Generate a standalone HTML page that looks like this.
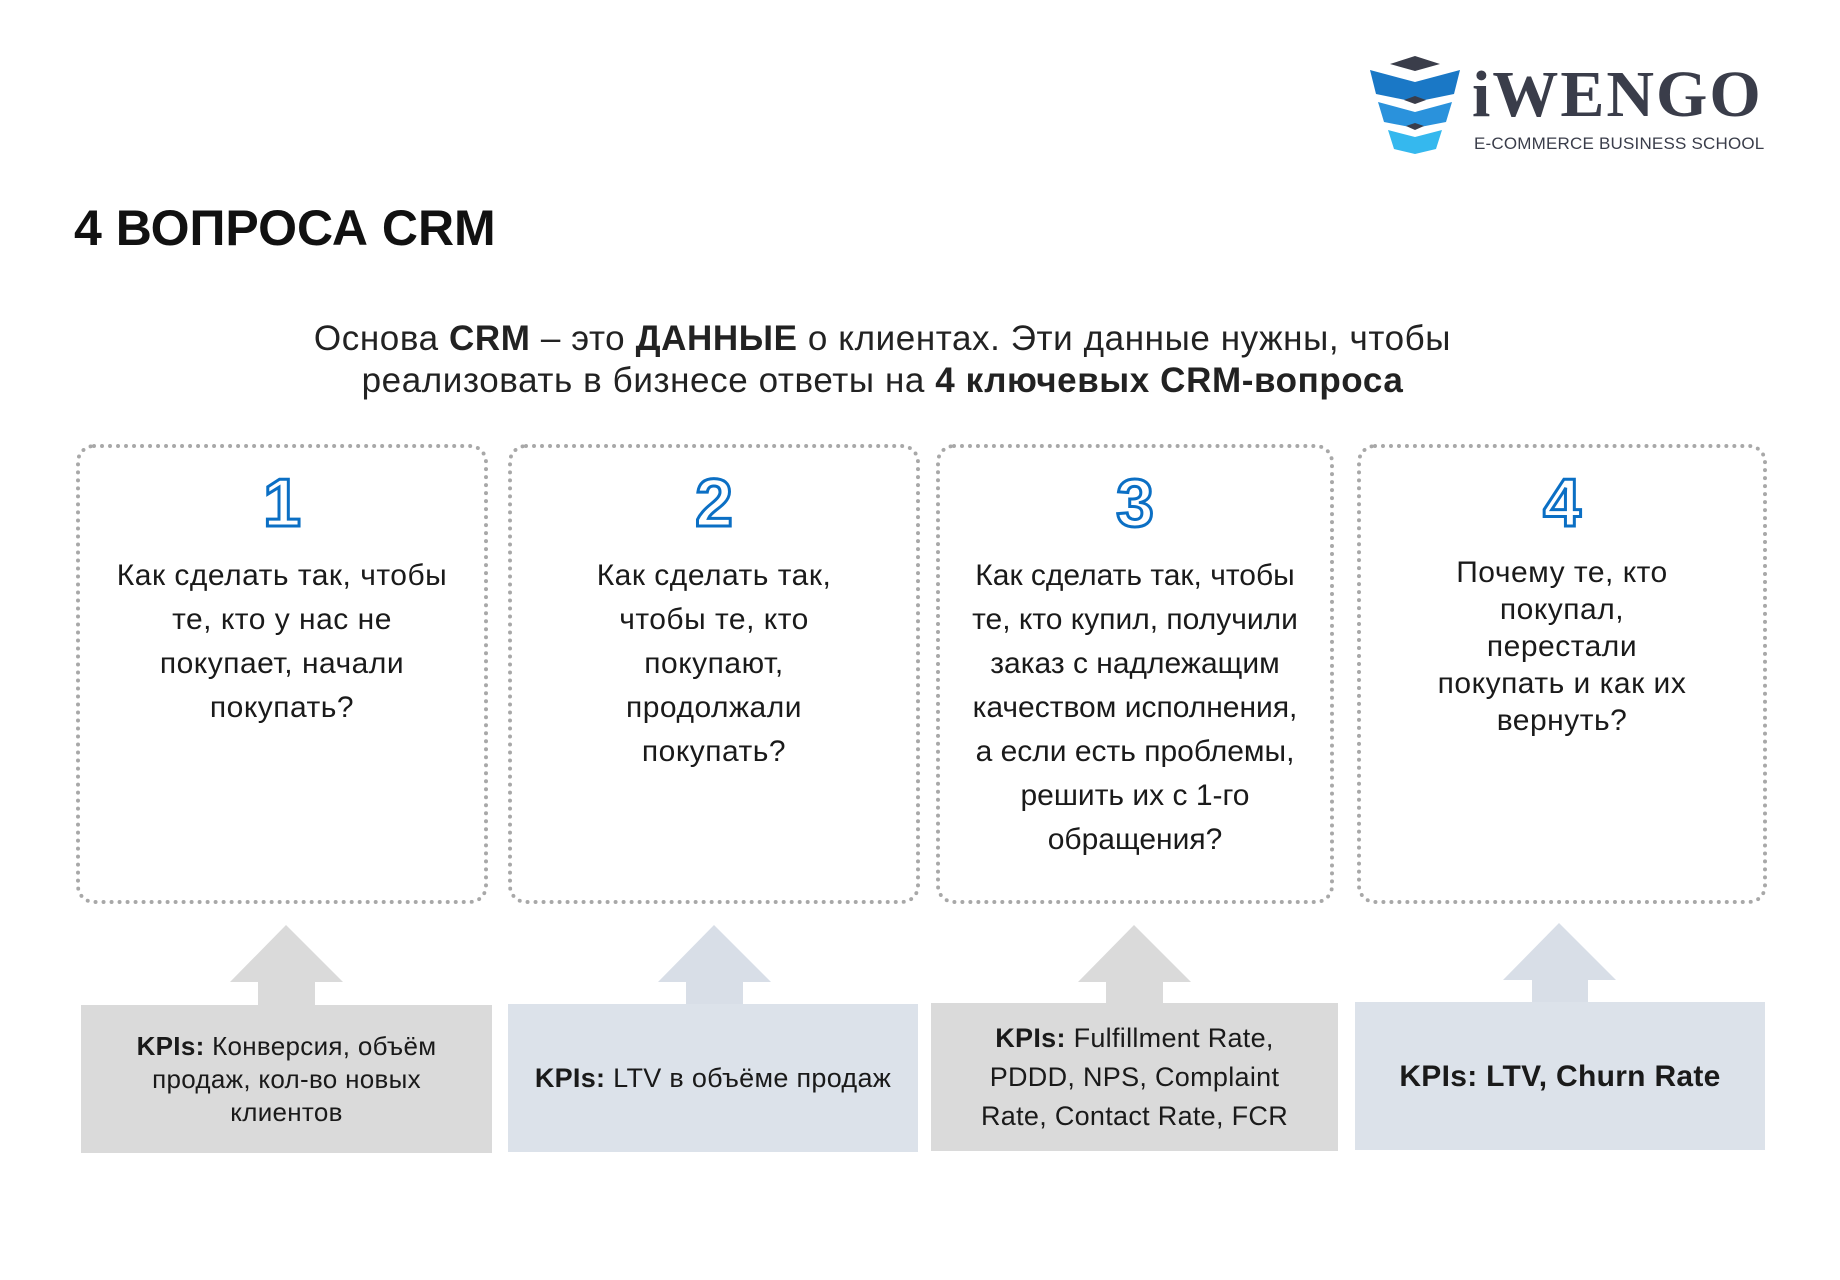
<!DOCTYPE html>
<html><head><meta charset="utf-8"><style>
body{margin:0;width:1840px;height:1280px;background:#fff;position:relative;overflow:hidden;font-family:"Liberation Sans","DejaVu Sans",sans-serif;color:#1a1a1a}
.a{position:absolute}
.box{position:absolute;top:444px;height:460px;border:4px dotted #a8a8a8;border-radius:18px;box-sizing:border-box;text-align:center}
.num{font-size:68px;font-weight:bold;color:#fff;-webkit-text-stroke:3px #0b6fc4;margin-top:20px;line-height:70px}
.txt{font-size:30px;line-height:44px;margin-top:16px;white-space:nowrap;letter-spacing:0.5px}
.kpi{position:absolute;display:flex;align-items:center;justify-content:center;text-align:center;font-size:26px;line-height:33px;box-sizing:border-box;padding:0 10px;white-space:nowrap;letter-spacing:0.3px}
.g{background:#dadada}.b{background:#dce2ea}
</style></head><body>
<svg class="a" style="left:1368px;top:54px" width="94" height="100" viewBox="0 0 94 100">
<polygon points="22,10 47,2 72,10 47,17" fill="#3a3d4a"/>
<polygon points="2,16 47,28 92,16 86,40 47,48 8,40" fill="#1a78c6"/>
<polygon points="36,46 47,42 58,46 47,50" fill="#3a3d4a"/>
<polygon points="10,48 47,58 84,48 78,68 47,74 16,68" fill="#2a92dc"/>
<polygon points="38,72 47,69 56,72 47,76" fill="#3a3d4a"/>
<polygon points="20,76 47,83 74,76 68,95 47,100 26,95" fill="#35b8ee"/>
</svg>
<div class="a" style="left:1472px;top:62px;font-family:'Liberation Serif',serif;font-weight:bold;font-size:66px;color:#3a3d4a;letter-spacing:2px;line-height:66px">iWENGO</div>
<div class="a" style="left:1474px;top:134px;font-size:17px;color:#3a3d4a;letter-spacing:0.2px">E-COMMERCE BUSINESS SCHOOL</div>
<div class="a" style="left:74px;top:198px;font-size:50px;font-weight:bold;color:#111;line-height:60px">4 ВОПРОСА CRM</div>
<div class="a" style="left:150px;width:1465px;top:318px;text-align:center;font-size:35px;line-height:42px;color:#222;letter-spacing:0.6px">Основа <b>CRM</b> – это <b>ДАННЫЕ</b> о клиентах. Эти данные нужны, чтобы<br>реализовать в бизнесе ответы на <b>4 ключевых CRM-вопроса</b></div>

<div class="box" style="left:76px;width:412px"><div class="num">1</div><div class="txt">Как сделать так, чтобы<br>те, кто у нас не<br>покупает, начали<br>покупать?</div></div>
<div class="box" style="left:508px;width:412px"><div class="num">2</div><div class="txt">Как сделать так,<br>чтобы те, кто<br>покупают,<br>продолжали<br>покупать?</div></div>
<div class="box" style="left:936px;width:398px"><div class="num">3</div><div class="txt" style="letter-spacing:0">Как сделать так, чтобы<br>те, кто купил, получили<br>заказ с надлежащим<br>качеством исполнения,<br>а если есть проблемы,<br>решить их с 1-го<br>обращения?</div></div>
<div class="box" style="left:1357px;width:410px"><div class="num">4</div><div class="txt" style="line-height:37px">Почему те, кто<br>покупал,<br>перестали<br>покупать и как их<br>вернуть?</div></div>

<svg class="a" style="left:0;top:0" width="1840" height="1280">
<g fill="#dadada"><polygon points="230,982 286,925 343,982 315,982 315,1006 258,1006 258,982"/>
<polygon points="1078,982 1134,925 1191,982 1163,982 1163,1006 1106,1006 1106,982"/></g>
<g fill="#d8dee7"><polygon points="658,982 714,925 771,982 743,982 743,1006 686,1006 686,982"/>
<polygon points="1503,980 1559,923 1616,980 1588,980 1588,1004 1532,1004 1532,980"/></g>
</svg>
<div class="kpi g" style="left:81px;top:1005px;width:411px;height:148px"><span><b>KPIs:</b> Конверсия, объём<br>продаж, кол-во новых<br>клиентов</span></div>
<div class="kpi b" style="left:508px;top:1004px;width:410px;height:148px;font-size:27px"><span><b>KPIs:</b> LTV в объёме продаж</span></div>
<div class="kpi g" style="left:931px;top:1003px;width:407px;height:148px;line-height:39px;font-size:27px"><span><b>KPIs:</b> Fulfillment Rate,<br>PDDD, NPS, Complaint<br>Rate, Contact Rate, FCR</span></div>
<div class="kpi b" style="left:1355px;top:1002px;width:410px;height:148px;font-size:30px;font-weight:bold"><span>KPIs: LTV, Churn Rate</span></div>
</body></html>
